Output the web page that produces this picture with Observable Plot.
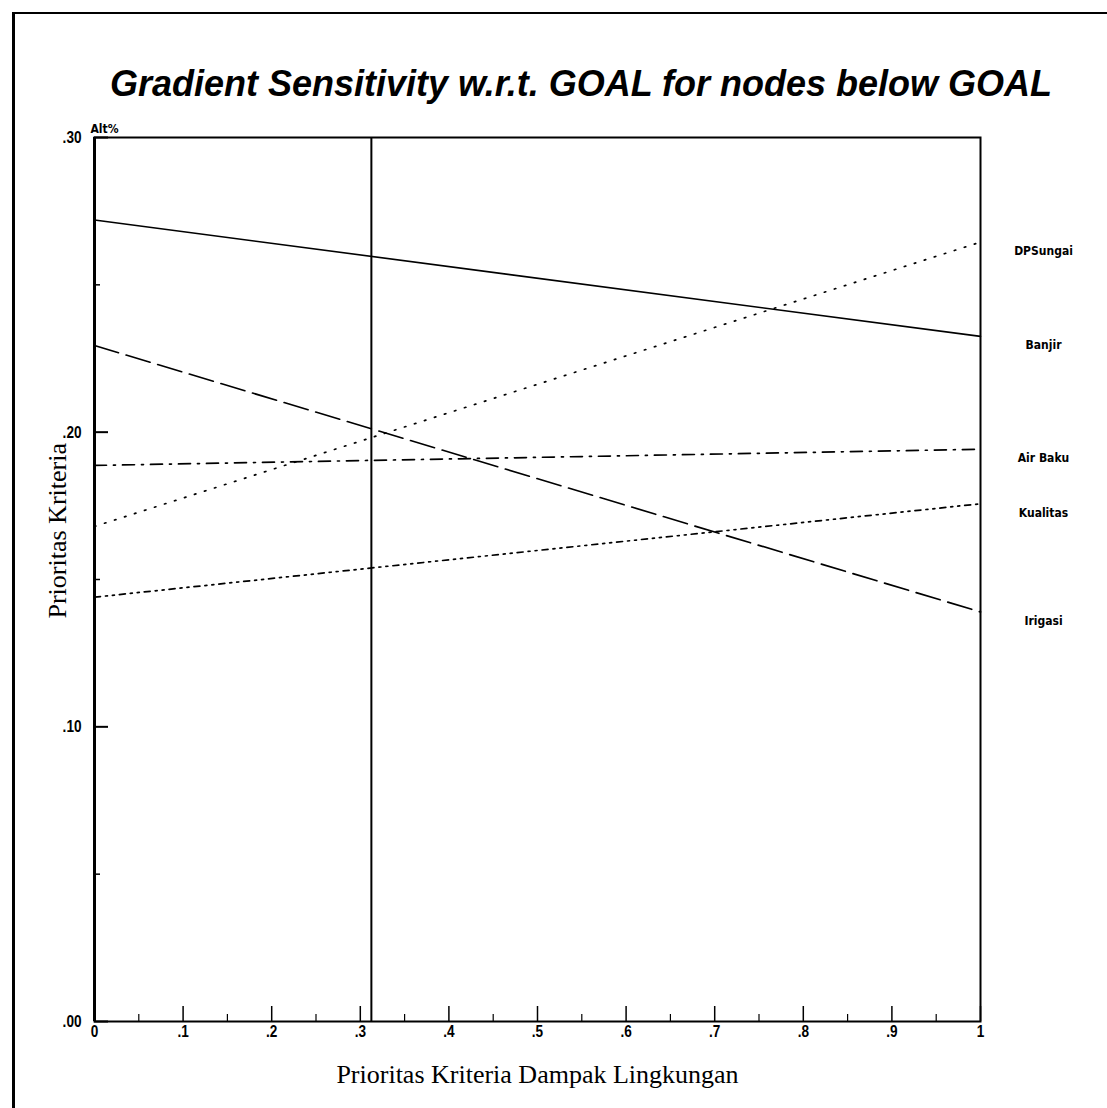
<!DOCTYPE html>
<html>
<head>
<meta charset="utf-8">
<script src="https://cdn.jsdelivr.net/npm/d3@7"></script>
<script src="https://cdn.jsdelivr.net/npm/@observablehq/plot@0.6"></script>
<style>
  html, body { margin: 0; padding: 0; background: #fff; overflow: hidden; }
  #wrap { position: relative; width: 1107px; height: 1108px; }
  #border { position: absolute; left: 12px; top: 12px; right: 0; bottom: 0;
            border-left: 3px solid #000; border-top: 2px solid #000; z-index: 5; pointer-events: none; }
  #title { position: absolute; top: 63px; left: 581px; transform: translateX(-50%);
           white-space: nowrap; font-family: "Liberation Sans", Arial, sans-serif;
           font-weight: bold; font-style: italic; font-size: 36px; line-height: 42px; color: #000; margin: 0; }
  #chart { position: absolute; left: 0; top: 110px; }
</style>
</head>
<body>
<div id="wrap">
  <div id="border"></div>
  <h1 id="title">Gradient Sensitivity w.r.t. GOAL for nodes below GOAL</h1>
  <div id="chart"></div>
</div>
<script>
// ---- data ----
const seriesNames = ["DPSungai", "Banjir", "Air Baku", "Kualitas", "Irigasi"];
const xPoints = [0, 1];
const valuesAtX0 = [0.168, 0.272, 0.1887, 0.144, 0.2294];
const valuesAtX1 = [0.2645, 0.2325, 0.1942, 0.1757, 0.139];
const dashes = ["1.5,9", null, "12,7,2,7", "6,5,2,5,2,5", "25,8"];
const currentPriority = 0.3125;
const xMajorTicks = [0, .1, .2, .3, .4, .5, .6, .7, .8, .9, 1];
const xMinorTicks = [.05, .15, .25, .35, .45, .55, .65, .75, .85, .95];
const yMajorTicks = [0, .1, .2, .3];
const yMinorTicks = [.05, .15, .25];

const rows = seriesNames.flatMap((name, i) => [
  {name, x: xPoints[0], y: valuesAtX0[i]},
  {name, x: xPoints[1], y: valuesAtX1[i]}
]);
const endRows = seriesNames.map((name, i) => ({name, x: xPoints[1], y: valuesAtX1[i]}));

const condensed = "'Liberation Sans Narrow', 'DejaVu Sans Condensed', 'Arial Narrow', sans-serif";
const sans = "'Liberation Sans', Arial, sans-serif";
const serif = "'Liberation Serif', 'Times New Roman', serif";
const fmtX = d => d === 0 ? "0" : d === 1 ? "1" : d3.format(".1f")(d).replace(/^0/, "");
const fmtY = d => d3.format(".2f")(d).replace(/^0/, "");

const lineMarks = seriesNames.map((name, i) =>
  Plot.line(rows.filter(r => r.name === name), {
    x: "x", y: "y", stroke: "#000",
    strokeWidth: dashes[i] ? 1.7 : 1.6,
    strokeDasharray: dashes[i] || undefined
  })
);

const chart = Plot.plot({
  width: 1107,
  height: 998,
  marginTop: 27,
  marginBottom: 87,
  marginLeft: 94,
  marginRight: 127,
  style: {fontFamily: sans, fontWeight: "bold", fontSize: "16px", color: "#000", background: "transparent", overflow: "visible"},
  x: {domain: [0, 1]},
  y: {domain: [0, 0.3]},
  marks: [
    ...lineMarks,
    Plot.ruleX([currentPriority], {stroke: "#000", strokeWidth: 2}),
    Plot.frame({stroke: "#000", strokeWidth: 2}),
    Plot.ruleX([0], {stroke: "#000", strokeWidth: 3}),
    Plot.axisX(xMajorTicks, {anchor: "bottom", tickSize: 15, dy: -15, tickFormat: () => "", label: null, strokeWidth: 1.5}),
    Plot.axisX(xMinorTicks, {anchor: "bottom", tickSize: 7, dy: -7, tickFormat: () => "", label: null, strokeWidth: 1.2}),
    Plot.axisX(xMajorTicks, {anchor: "bottom", tickSize: 0, tickPadding: 3, tickFormat: fmtX,
      fontSize: 17, label: "Prioritas Kriteria Dampak Lingkungan", labelAnchor: "center", labelArrow: "none", labelOffset: 61}),
    Plot.axisY(yMajorTicks, {anchor: "left", tickSize: 14, dx: 14, tickFormat: () => "", label: null, strokeWidth: 2}),
    Plot.axisY(yMinorTicks, {anchor: "left", tickSize: 6, dx: 6, tickFormat: () => "", label: null, strokeWidth: 1.5}),
    Plot.axisY(yMajorTicks, {anchor: "left", tickSize: 0, tickPadding: 13, tickFormat: fmtY, fontSize: 17, label: null}),
    Plot.text(["Prioritas Kriteria"], {frameAnchor: "left", rotate: -90, dx: -37, dy: 39,
      fontFamily: serif, fontWeight: "normal", fontSize: 26}),
    Plot.text(["Alt%"], {frameAnchor: "top-left", textAnchor: "start", dx: -4, dy: -13, fontSize: 12, fontFamily: condensed}),
    Plot.text(endRows, {x: "x", y: "y", text: "name", textAnchor: "middle", dx: 63, dy: 9, fontSize: 12, fontFamily: condensed})
  ]
});

chart.querySelectorAll("g[aria-label='x-axis label'] text").forEach(t => {
  t.setAttribute("font-family", serif);
  t.setAttribute("font-weight", "normal");
  t.setAttribute("font-size", "26");
});
// narrow the tick labels like the condensed face of the original
chart.querySelectorAll("g[aria-label='x-axis tick label'] text, g[aria-label='y-axis tick label'] text").forEach(t => {
  const tr = t.getAttribute("transform") || "";
  t.setAttribute("transform", tr + " scale(0.8,1)");
});
document.getElementById("chart").appendChild(chart);
</script>
</body>
</html>
